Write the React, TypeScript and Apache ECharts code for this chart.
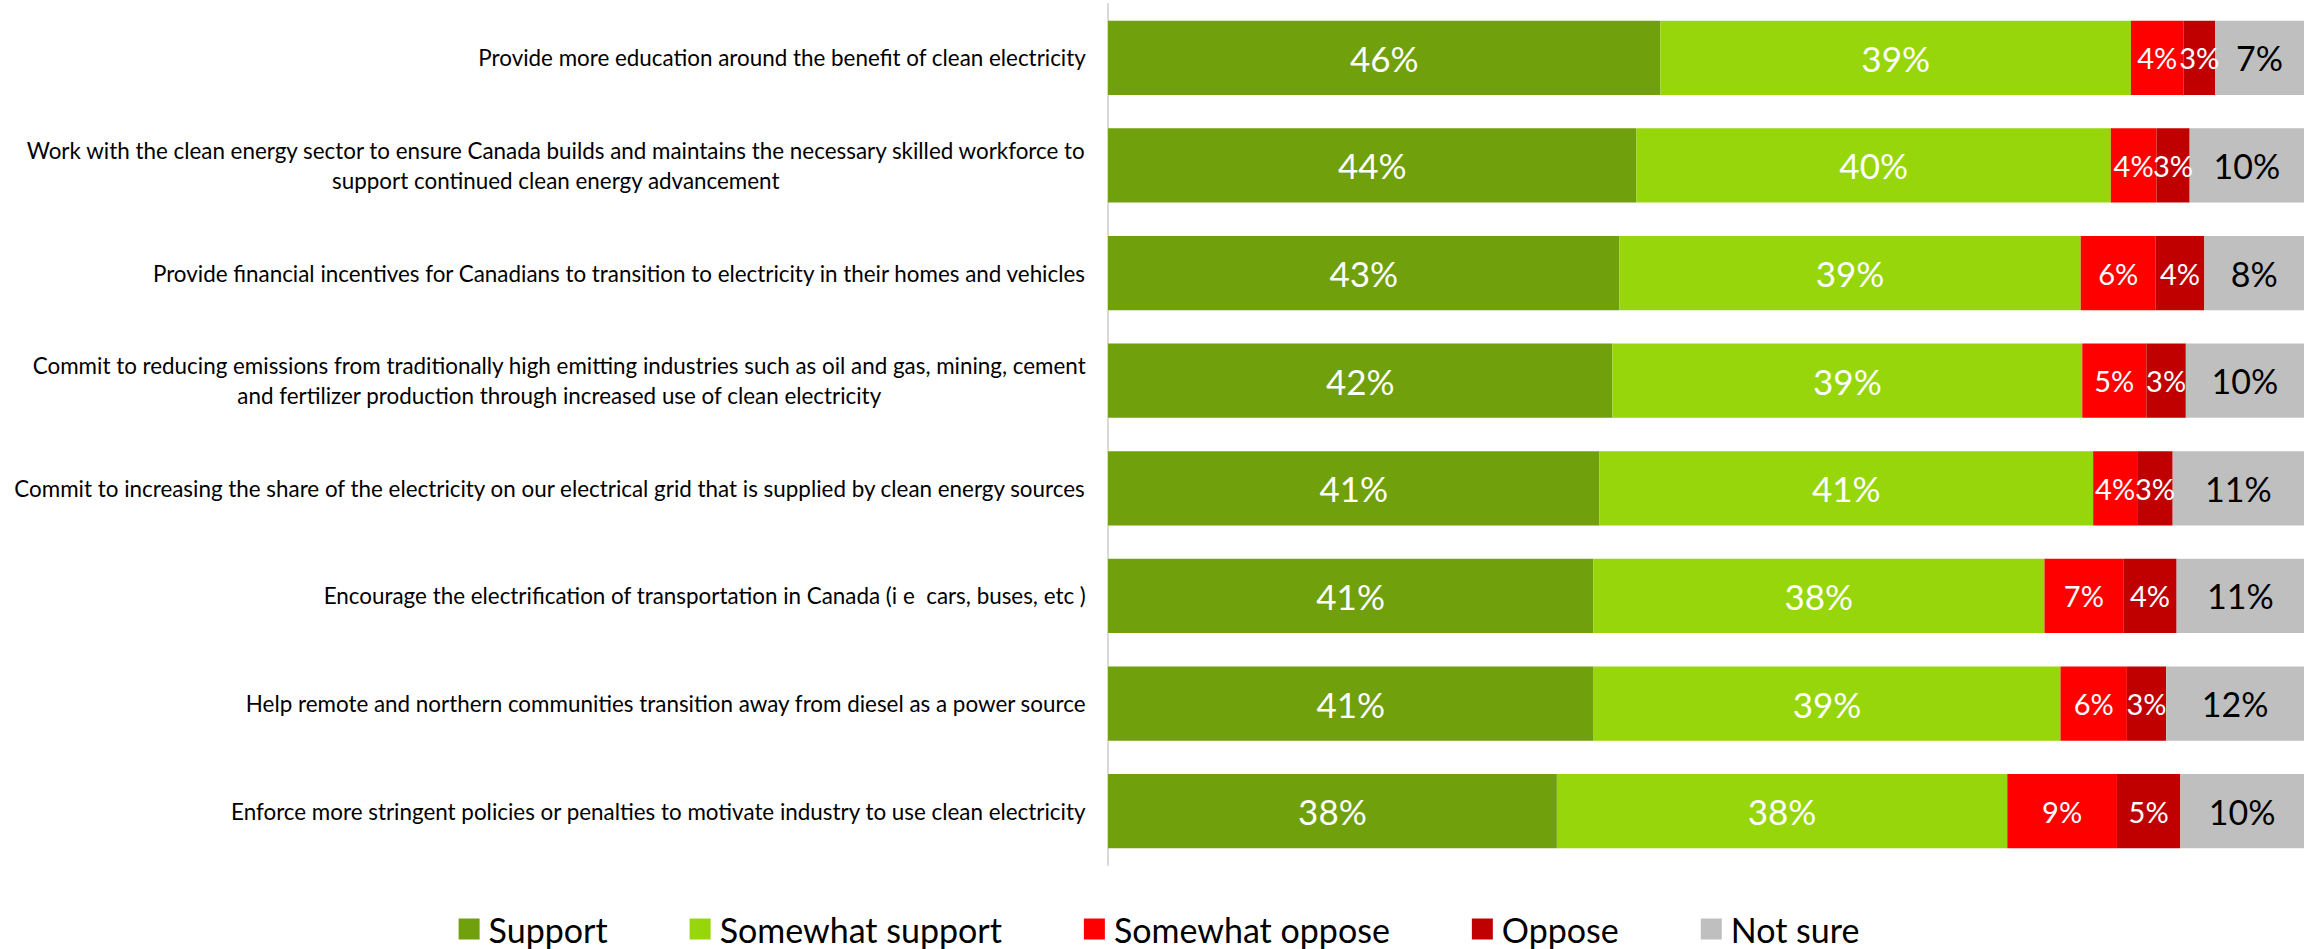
import React, { useEffect, useRef } from "react";
import * as echarts from "echarts";

const categories = [
  "Provide more education around the benefit of clean electricity",
  "Work with the clean energy sector to ensure Canada builds and maintains the necessary skilled workforce to\nsupport continued clean energy advancement",
  "Provide financial incentives for Canadians to transition to electricity in their homes and vehicles",
  "Commit to reducing emissions from traditionally high emitting industries such as oil and gas, mining, cement\nand fertilizer production through increased use of clean electricity",
  "Commit to increasing the share of the electricity on our electrical grid that is supplied by clean energy sources",
  "Encourage the electrification of transportation in Canada (i e  cars, buses, etc )",
  "Help remote and northern communities transition away from diesel as a power source",
  "Enforce more stringent policies or penalties to motivate industry to use clean electricity",
];

const seriesNames = ["Support", "Somewhat support", "Somewhat oppose", "Oppose", "Not sure"];

const support = [46.19, 44.19, 42.76, 42.18, 41.09, 40.57, 40.6, 37.53];
const somewhatSupport = [39.34, 39.66, 38.57, 39.28, 41.28, 37.73, 39.04, 37.66];
const somewhatOppose = [4.39, 3.81, 6.27, 5.36, 3.68, 6.59, 5.55, 9.17];
const oppose = [2.65, 2.78, 4.07, 3.3, 2.97, 4.46, 3.29, 5.3];
const notSure = [7.43, 9.56, 8.33, 9.88, 10.98, 10.66, 11.52, 10.34];

const colors = ["#70A00B", "#96D60A", "#FF0000", "#C00000", "#BFBFBF"];
const labelColors = ["#FFFFFF", "#FFFFFF", "#FFFFFF", "#FFFFFF", "#000000"];
const labelSizes = [35, 35, 29, 29, 34];

const FONT = "Lato, 'Liberation Sans', sans-serif";

export default function App() {
  const ref = useRef<HTMLDivElement>(null);
  useEffect(() => {
    if (!ref.current) return;
    const chart = echarts.init(ref.current, undefined, { renderer: "svg" });
    const values = [support, somewhatSupport, somewhatOppose, oppose, notSure];
    chart.setOption({
      animation: false,
      textStyle: { fontFamily: FONT },
      grid: { left: 1108, right: 14, top: 4, bottom: 84, containLabel: false },
      xAxis: { type: "value", min: 0, max: 100, show: false },
      yAxis: {
        type: "category",
        inverse: true,
        data: categories,
        axisLine: { show: true, lineStyle: { color: "#D9D9D9", width: 2 } },
        axisTick: { show: false },
        splitLine: { show: false },
        axisLabel: {
          margin: 22,
          align: "right",
          color: "#000",
          fontFamily: FONT,
          fontSize: 22.4,
          lineHeight: 30,
          formatter: (v: string) =>
            v
              .split("\n")
              .map((l) => `{c|${l}}`)
              .join("\n"),
          rich: {
            c: { align: "center", fontSize: 22.4, lineHeight: 30, fontFamily: FONT, color: "#000" },
          },
        },
      },
      legend: {
        bottom: -2,
        left: "center",
        icon: "rect",
        itemWidth: 21,
        itemHeight: 21,
        itemGap: 82,
        textStyle: { fontSize: 34, fontFamily: FONT, color: "#000", padding: [0, 0, 0, 4] },
        data: seriesNames,
      },
      series: seriesNames.map((name, i) => ({
        name,
        type: "bar",
        stack: "total",
        barCategoryGap: "31%",
        data: values[i],
        itemStyle: { color: colors[i] },
        label: {
          show: true,
          position: "inside",
          color: labelColors[i],
          fontSize: labelSizes[i],
          fontFamily: FONT,
          formatter: (p: any) => `${Math.round(p.value)}%`,
        },
      })),
    });
    return () => chart.dispose();
  }, []);
  return (
    <div
      ref={ref}
      style={{ position: "fixed", left: 0, top: 0, width: "2318px", height: "949px", background: "#fff" }}
    />
  );
}
